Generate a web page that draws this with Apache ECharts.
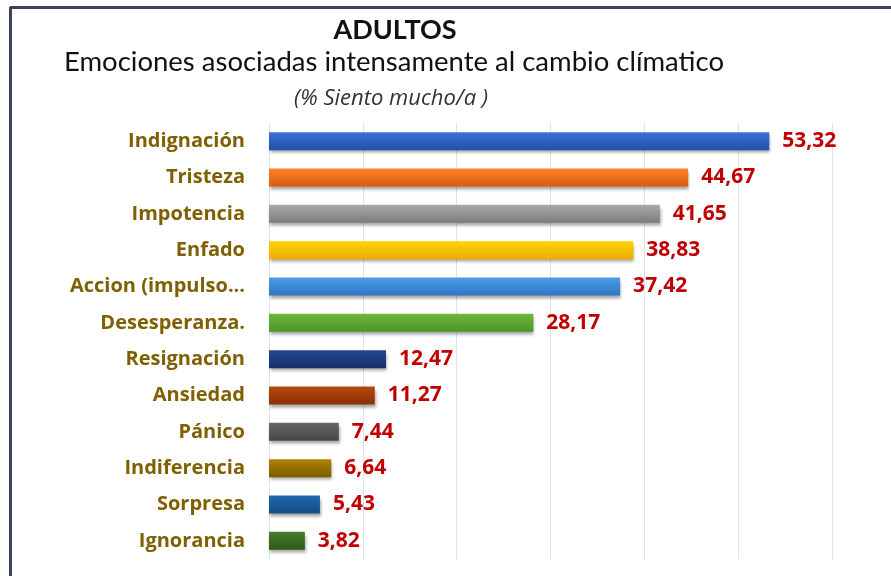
<!DOCTYPE html>
<html>
<head>
<meta charset="utf-8">
<script src="https://cdn.jsdelivr.net/npm/echarts@6/dist/echarts.min.js"></script>
<style>
html,body{margin:0;padding:0;background:#fff;}
#c{width:891px;height:576px;}
</style>
</head>
<body>
<div id="c"></div>
<script>
const categories = ["Indignación","Tristeza","Impotencia","Enfado","Accion (impulso...","Desesperanza.","Resignación","Ansiedad","Pánico","Indiferencia","Sorpresa","Ignorancia"];
const values = [53.32,44.67,41.65,38.83,37.42,28.17,12.47,11.27,7.44,6.64,5.43,3.82];
const topColors = ["#3b72d8","#ff8226","#aaaaaa","#ffd400","#4c9ce6","#6cb83e","#25488f","#b84a0c","#676767","#b28200","#1f68aa","#467c2b"];
const bottomColors = ["#234fa9","#d85c10","#7c7c7c","#eeac00","#2e76c2","#4d9427","#16306e","#883004","#474747","#7c5b00","#144d86","#2d5818"];
const xTicks = [0,10,20,30,40,50,60];

const chart = echarts.init(document.getElementById('c'));
const data = values.map((v,i)=>({
  value: v,
  itemStyle: {
    color: new echarts.graphic.LinearGradient(0,0,0,1,[{offset:0,color:topColors[i]},{offset:1,color:bottomColors[i]}]),
    shadowColor: 'rgba(0,0,0,0.35)', shadowBlur: 3, shadowOffsetY: 3, shadowOffsetX: 1
  }
}));
chart.setOption({
  animation: false,
  title: [
    {text:'ADULTOS', left:390, top:12, textAlign:'center',
     textStyle:{fontFamily:'Lato', fontWeight:'bold', fontSize:27, color:'#111'}},
    {text:'Emociones asociadas intensamente al cambio clímatico', left:389, top:43, textAlign:'center',
     textStyle:{fontFamily:'Lato', fontWeight:'normal', fontSize:27.5, color:'#111'}},
    {text:'(% Siento mucho/a )', left:386, top:83, textAlign:'center',
     textStyle:{fontFamily:'Open Sans', fontStyle:'italic', fontWeight:'normal', fontSize:22, color:'#333'}}
  ],
  graphic: [
    {type:'line', shape:{x1:10, y1:7.5, x2:891, y2:7.5}, style:{stroke:'#3a4558', lineWidth:3}},
    {type:'line', shape:{x1:10.5, y1:7, x2:10.5, y2:576}, style:{stroke:'#3a4558', lineWidth:3}}
  ],
  grid: {left:269, right:59, top:123, bottom:17, containLabel:false},
  xAxis: {
    type:'value', min:xTicks[0], max:xTicks[xTicks.length-1], interval:10,
    axisLabel:{show:false}, axisLine:{show:false}, axisTick:{show:false},
    splitLine:{show:true, lineStyle:{color:'#dde3ec', width:1}}
  },
  yAxis: {
    type:'category', data:categories, inverse:true,
    axisLine:{show:true, lineStyle:{color:'#dde3ec', width:1}},
    axisTick:{show:false},
    axisLabel:{margin:24, fontFamily:'Open Sans', fontWeight:'bold', fontSize:20, color:'#7f6000'}
  },
  series: [{
    type:'bar', data:data, barWidth:18,
    label:{show:true, position:'right', distance:13,
      formatter:p=>p.value.toFixed(2).replace('.',','),
      fontFamily:'Open Sans', fontWeight:'bold', fontSize:21, color:'#c00000'}
  }]
});
</script>
</body>
</html>
